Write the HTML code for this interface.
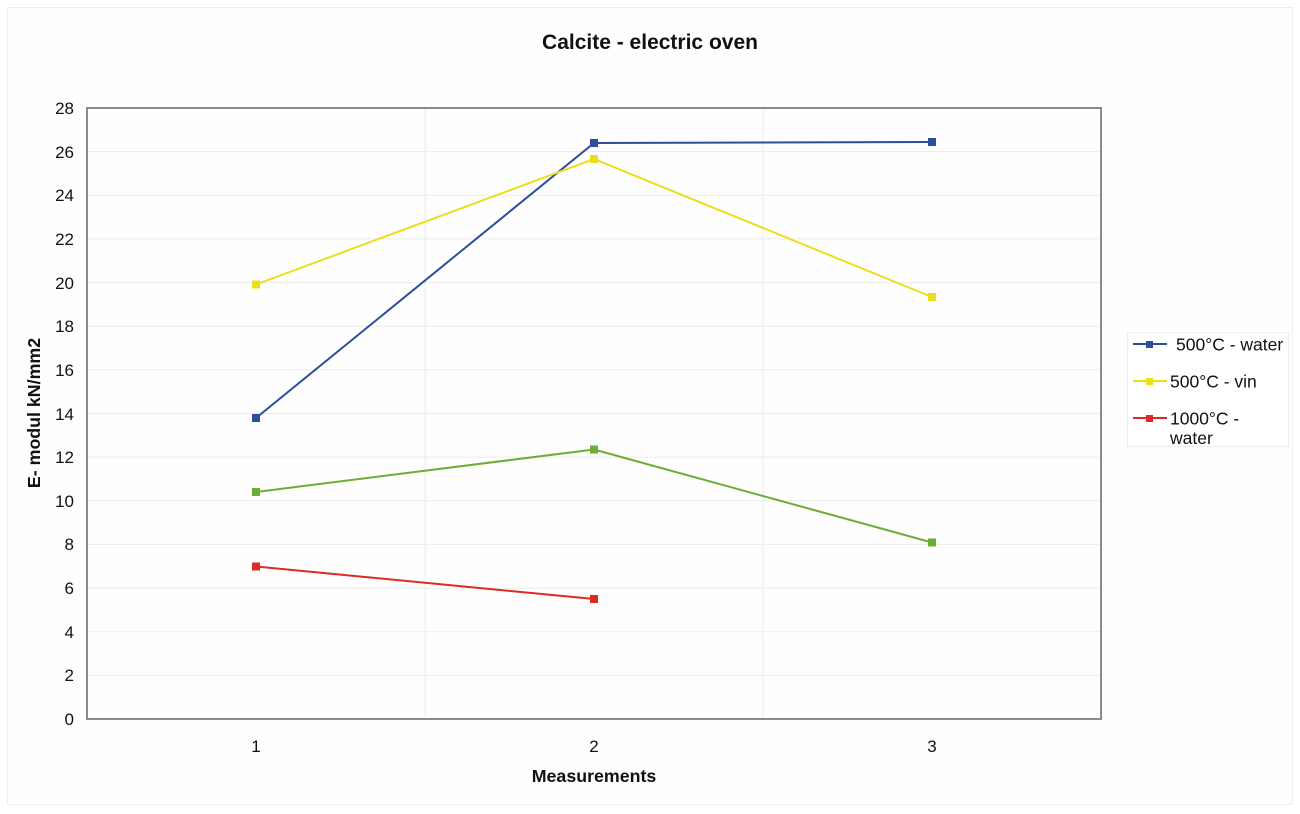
<!DOCTYPE html>
<html>
<head>
<meta charset="utf-8">
<style>
html,body{margin:0;padding:0;background:#fff;}
svg{display:block;}
text{font-family:"Liberation Sans",Arial,sans-serif;fill:#111;}
</style>
</head>
<body>
<svg width="1300" height="814" viewBox="0 0 1300 814" xmlns="http://www.w3.org/2000/svg">
<rect x="0" y="0" width="1300" height="814" fill="#fff"/>
<rect x="7.5" y="7.5" width="1285" height="797" fill="#fefefe" stroke="#eeeeee" stroke-width="1"/>
<text x="650" y="49" font-size="21" font-weight="bold" text-anchor="middle">Calcite - electric oven</text>
<!-- gridlines -->
<g stroke="#ececec" stroke-width="1">
<line x1="87" y1="675.4" x2="1101" y2="675.4"/>
<line x1="87" y1="631.7" x2="1101" y2="631.7"/>
<line x1="87" y1="588.1" x2="1101" y2="588.1"/>
<line x1="87" y1="544.4" x2="1101" y2="544.4"/>
<line x1="87" y1="500.8" x2="1101" y2="500.8"/>
<line x1="87" y1="457.1" x2="1101" y2="457.1"/>
<line x1="87" y1="413.5" x2="1101" y2="413.5"/>
<line x1="87" y1="369.9" x2="1101" y2="369.9"/>
<line x1="87" y1="326.2" x2="1101" y2="326.2"/>
<line x1="87" y1="282.6" x2="1101" y2="282.6"/>
<line x1="87" y1="238.9" x2="1101" y2="238.9"/>
<line x1="87" y1="195.3" x2="1101" y2="195.3"/>
<line x1="87" y1="151.6" x2="1101" y2="151.6"/>
<line x1="425" y1="108" x2="425" y2="719"/>
<line x1="763" y1="108" x2="763" y2="719"/>
</g>
<rect x="87" y="108" width="1014" height="611" fill="none" stroke="#8a8a8a" stroke-width="2"/>
<!-- y tick labels -->
<g font-size="17" text-anchor="end">
<text x="74" y="725">0</text>
<text x="74" y="681">2</text>
<text x="74" y="638">4</text>
<text x="74" y="594">6</text>
<text x="74" y="550">8</text>
<text x="74" y="507">10</text>
<text x="74" y="463">12</text>
<text x="74" y="420">14</text>
<text x="74" y="376">16</text>
<text x="74" y="332">18</text>
<text x="74" y="289">20</text>
<text x="74" y="245">22</text>
<text x="74" y="201">24</text>
<text x="74" y="158">26</text>
<text x="74" y="114">28</text>
</g>
<g font-size="17" text-anchor="middle">
<text x="256" y="752">1</text>
<text x="594" y="752">2</text>
<text x="932" y="752">3</text>
</g>
<text x="594" y="782" font-size="17.8" font-weight="bold" text-anchor="middle">Measurements</text>
<text transform="translate(40,413) rotate(-90)" font-size="17.8" font-weight="bold" text-anchor="middle">E- modul kN/mm2</text>
<!-- series -->
<g fill="none" stroke-width="2">
<polyline points="256,418 594,143 932,142" stroke="#2c4e9c"/>
<polyline points="256,284.5 594,159 932,297" stroke="#ecdf1a"/>
<polyline points="256,492 594,449.5 932,542.5" stroke="#6aae33"/>
<polyline points="256,566.5 594,599" stroke="#dc2a24"/>
</g>
<g fill="#2c4e9c"><rect x="252" y="414" width="8" height="8"/><rect x="590" y="139" width="8" height="8"/><rect x="928" y="138" width="8" height="8"/></g>
<g fill="#ecdf1a"><rect x="252" y="280.5" width="8" height="8"/><rect x="590" y="155" width="8" height="8"/><rect x="928" y="293" width="8" height="8"/></g>
<g fill="#6aae33"><rect x="252" y="488" width="8" height="8"/><rect x="590" y="445.5" width="8" height="8"/><rect x="928" y="538.5" width="8" height="8"/></g>
<g fill="#dc2a24"><rect x="252" y="562.5" width="8" height="8"/><rect x="590" y="595" width="8" height="8"/></g>
<!-- legend -->
<rect x="1127.5" y="332.5" width="161" height="114" fill="#fff" stroke="#eeeeee"/>
<line x1="1133" y1="344" x2="1167" y2="344" stroke="#2c4e9c" stroke-width="2"/>
<rect x="1146" y="341" width="7" height="7" fill="#2c4e9c"/>
<text x="1176" y="350.5" font-size="17.5">500°C - water</text>
<line x1="1133" y1="381" x2="1167" y2="381" stroke="#ecdf1a" stroke-width="2"/>
<rect x="1146" y="378" width="7" height="7" fill="#ecdf1a"/>
<text x="1170" y="387.5" font-size="17.5">500°C - vin</text>
<line x1="1133" y1="418" x2="1167" y2="418" stroke="#dc2a24" stroke-width="2"/>
<rect x="1146" y="415" width="7" height="7" fill="#dc2a24"/>
<text x="1170" y="424.5" font-size="17.5">1000°C -</text>
<clipPath id="lc"><rect x="1128" y="333" width="160" height="112"/></clipPath>
<text x="1170" y="444" font-size="17.5" clip-path="url(#lc)">water</text>
</svg>
</body>
</html>
